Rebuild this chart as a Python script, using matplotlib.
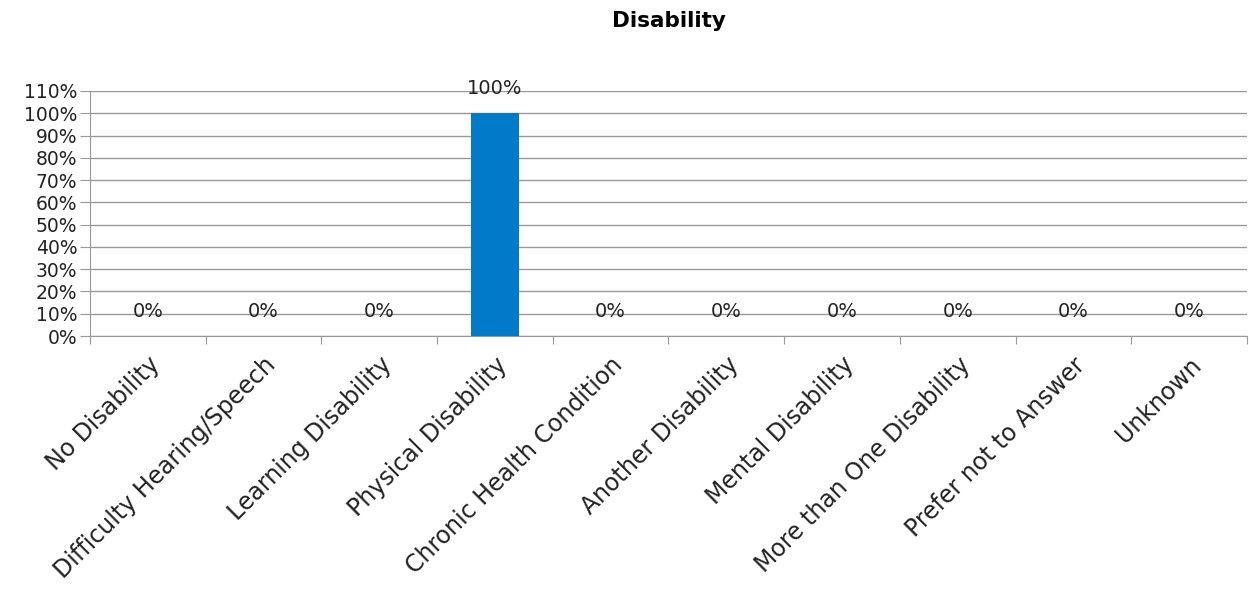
import numpy as np
import matplotlib.pyplot as plt
from matplotlib.ticker import PercentFormatter, MultipleLocator

categories = ['No Disability', 'Difficulty Hearing/Speech', 'Learning Disability',
              'Physical Disability', 'Chronic Health Condition', 'Another Disability',
              'Mental Disability', 'More than One Disability', 'Prefer not to Answer',
              'Unknown']
values = [0, 0, 0, 100, 0, 0, 0, 0, 0, 0]

plt.rcParams['font.family'] = ['DejaVu Sans']
FS = 13.5

fig = plt.figure(figsize=(12.49, 5.92), dpi=100)
ax = fig.add_axes([0.072, 0.4324, 0.9264, 0.4139])

x = np.arange(len(categories))
ax.bar(x, values, width=0.41, color='#007AC9', zorder=3)

for xi, v in zip(x, values):
    ax.annotate(f'{v}%', (xi, v), xytext=(0, 18), textcoords='offset points',
                ha='center', va='center', fontsize=FS + 0.5, color='#222222', zorder=4)

ax.set_xlim(-0.5, len(categories) - 0.5)
ax.set_ylim(0, 110)
ax.yaxis.set_major_locator(MultipleLocator(10))
ax.yaxis.set_major_formatter(PercentFormatter(decimals=0))
ax.grid(axis='y', color='#999999', linewidth=1.0, zorder=0)

# tick marks at category boundaries, labels at centres
ax.set_xticks(np.arange(-0.5, len(categories)), minor=False)
ax.set_xticklabels([])
ax.set_xticks(x, minor=True)
ax.set_xticklabels(categories, minor=True, rotation=45, ha='right',
                   rotation_mode='anchor', fontsize=17, color='#222222')
ax.tick_params(axis='x', which='minor', length=0, pad=12)
ax.tick_params(axis='x', which='major', length=6, color='#999999')
ax.tick_params(axis='y', length=7, color='#999999', labelsize=FS, pad=2,
               labelcolor='#222222')

for side in ['top', 'right']:
    ax.spines[side].set_visible(False)
ax.spines['left'].set_color('#999999')
ax.spines['bottom'].set_color('#999999')

ax.set_title('Disability', fontsize=15.5, fontweight='bold', pad=46)

fig.savefig('out.png', dpi=100)
